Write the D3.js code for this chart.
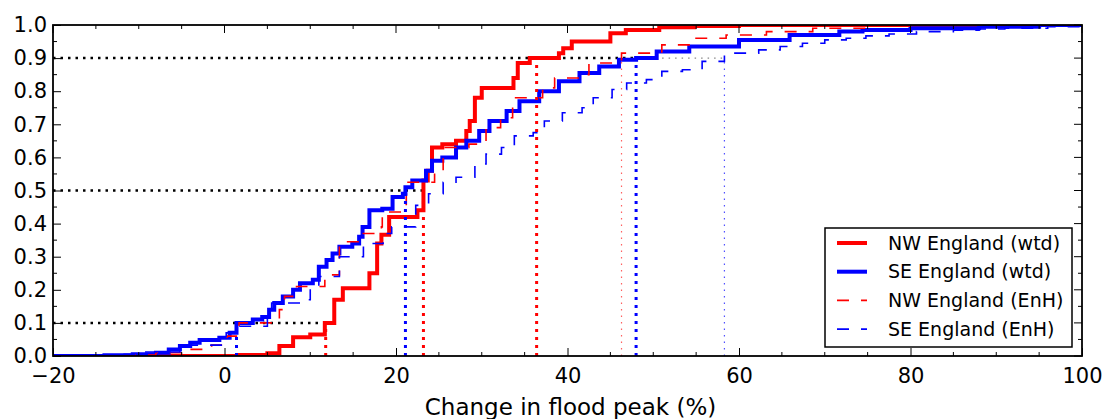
<!DOCTYPE html>
<html>
<head>
<meta charset="utf-8">
<script src="https://cdn.jsdelivr.net/npm/d3@7"></script>
<style>
  body { margin: 0; background: #fff; }
  text { font-family: "DejaVu Sans", sans-serif; fill: #000; }
</style>
</head>
<body>
<div id="chart"></div>
<script>
// step CDFs: change in flood peak (%) -> cumulative fraction
const nwWtdX = [-20, 1.7, 5, 6.4, 8, 10, 11.7, 12.8, 13.8, 16.9, 17.8, 18.3, 19.2, 22.5, 23.2, 23.7, 24.2, 25.4, 27, 28.2, 28.6, 29.2, 30.0, 33.7, 34.2, 35.6, 39.0, 39.5, 40.5, 45.0, 46.8, 50.7, 54.8, 60, 100];
const nwWtdP = [0, 0.003, 0.008, 0.03, 0.057, 0.065, 0.1, 0.17, 0.205, 0.25, 0.34, 0.366, 0.42, 0.44, 0.53, 0.56, 0.63, 0.64, 0.65, 0.68, 0.71, 0.78, 0.81, 0.84, 0.885, 0.9, 0.915, 0.93, 0.95, 0.975, 0.985, 0.993, 0.997, 1.0, 1.0];

const seWtdX = [-20, -14, -10.7, -8, -6.5, -5.2, -4, -2.9, -0.6, 0.6, 1.4, 3.3, 4.4, 5.2, 5.8, 6.8, 8.0, 8.8, 10.3, 11.0, 11.9, 12.6, 13.4, 14.9, 15.7, 16.1, 16.9, 18.4, 19.6, 20.8, 21.1, 21.9, 23.5, 24.2, 25.4, 27.0, 28.2, 29.7, 30.9, 32.9, 34.4, 36.7, 39.0, 41.4, 43.7, 46.0, 48.0, 50.4, 54.2, 60, 65.9, 71.7, 74.4, 80, 88, 95, 100];
const seWtdP = [0, 0.002, 0.005, 0.01, 0.02, 0.03, 0.04, 0.048, 0.055, 0.07, 0.1, 0.11, 0.118, 0.14, 0.16, 0.18, 0.2, 0.22, 0.23, 0.27, 0.29, 0.31, 0.33, 0.34, 0.36, 0.39, 0.44, 0.445, 0.48, 0.49, 0.51, 0.53, 0.56, 0.59, 0.6, 0.63, 0.65, 0.68, 0.71, 0.74, 0.77, 0.8, 0.83, 0.855, 0.875, 0.895, 0.9, 0.92, 0.935, 0.955, 0.97, 0.98, 0.985, 0.99, 0.995, 1.0, 1.0];

const nwEnhX = [-20, -12, -8, -5, -1.5, 0.3, 1.7, 6.4, 7.0, 8.4, 11.7, 13.4, 15.8, 18.3, 18.4, 21.2, 24.5, 25.5, 28.5, 30.5, 32.2, 33.6, 37.1, 38.5, 41.7, 42.5, 45.2, 46.3, 51.0, 54.5, 58.5, 63.2, 68.6, 75, 80, 100];
const nwEnhP = [0, 0.003, 0.01, 0.02, 0.033, 0.06, 0.1, 0.14, 0.18, 0.21, 0.245, 0.345, 0.37, 0.39, 0.435, 0.525, 0.56, 0.63, 0.64, 0.69, 0.72, 0.78, 0.81, 0.84, 0.85, 0.885, 0.895, 0.915, 0.94, 0.96, 0.97, 0.98, 0.99, 0.997, 1.0, 1.0];

const seEnhX = [-20, -13, -10, -5.2, 0.2, 1.5, 5, 5.5, 9, 10, 11, 13.4, 16.2, 18.5, 19.5, 22.3, 23.8, 25.5, 27.0, 29.2, 30.5, 32.3, 33.8, 36.0, 37.3, 39.4, 41.7, 43.0, 45.2, 46.9, 49.2, 51.0, 53.4, 55.7, 58.3, 62.3, 64.8, 67.4, 70, 72.5, 74.8, 77.5, 80.7, 85, 88, 91, 96, 100];
const seEnhP = [0, 0.005, 0.012, 0.033, 0.07, 0.09, 0.13, 0.16, 0.17, 0.205, 0.24, 0.3, 0.34, 0.37, 0.39, 0.455, 0.49, 0.525, 0.54, 0.58, 0.61, 0.63, 0.665, 0.675, 0.71, 0.735, 0.75, 0.78, 0.805, 0.825, 0.835, 0.86, 0.865, 0.89, 0.915, 0.925, 0.935, 0.945, 0.955, 0.96, 0.967, 0.973, 0.98, 0.984, 0.988, 0.99, 0.995, 0.998];

// quantile levels and where each series crosses them
const levels = [0.1, 0.5, 0.9];
const nwWtdQ = [11.8, 23.2, 36.4];
const seWtdQ = [1.4, 21.1, 48.0];
const nwEnhQ90 = 46.3;
const seEnhQ90 = 58.3;

const xTicks = [-20, 0, 20, 40, 60, 80, 100];
const yTicks = [0, 0.1, 0.2, 0.3, 0.4, 0.5, 0.6, 0.7, 0.8, 0.9, 1.0];

const width = 1108, height = 419;
const margin = {left: 53, right: 26, top: 25, bottom: 63};
const innerwidth = width - margin.left - margin.right;
const innerheight = height - margin.top - margin.bottom;

const svg = d3.select('#chart').append('svg')
  .attr('width', width)
  .attr('height', height);

const g = svg.append('g').attr('transform', `translate(${margin.left},${margin.top})`);

const x = d3.scaleLinear().domain([-20, 100]).range([0, innerwidth]);
const y = d3.scaleLinear().domain([0, 1]).range([innerheight, 0]);

g.append('clipPath').attr('id', 'clip')
  .append('rect').attr('width', innerwidth).attr('height', innerheight);

const plot = g.append('g').attr('clip-path', 'url(#clip)');

// horizontal dotted guides at the quantile levels
levels.forEach((lv, i) => {
  const far = Math.max(nwWtdQ[i], seWtdQ[i]);
  if (lv === 0.9) {
    plot.append('line')
      .attr('x1', x(far)).attr('x2', x(seEnhQ90))
      .attr('y1', y(lv)).attr('y2', y(lv))
      .attr('stroke', '#888').attr('stroke-width', 1.2)
      .attr('stroke-dasharray', '1.5,5');
  }
  plot.append('line')
    .attr('x1', 0).attr('x2', x(far))
    .attr('y1', y(lv)).attr('y2', y(lv))
    .attr('stroke', '#000').attr('stroke-width', 2.5)
    .attr('stroke-dasharray', '2.5,5');
});

const line = d3.line()
  .x(d => x(d[0]))
  .y(d => y(d[1]))
  .curve(d3.curveStepAfter);

const series = [
  {name: 'NW England (wtd)', xs: nwWtdX, ps: nwWtdP, color: '#ff0000', w: 4, dash: null},
  {name: 'SE England (wtd)', xs: seWtdX, ps: seWtdP, color: '#0000ff', w: 4, dash: null},
  {name: 'NW England (EnH)', xs: nwEnhX, ps: nwEnhP, color: '#ff0000', w: 1.6, dash: '12,12'},
  {name: 'SE England (EnH)', xs: seEnhX, ps: seEnhP, color: '#0000ff', w: 1.6, dash: '12,12'}
];

series.forEach(s => {
  plot.append('path')
    .datum(s.xs.map((v, i) => [v, s.ps[i]]))
    .attr('d', line)
    .attr('fill', 'none')
    .attr('stroke', s.color)
    .attr('stroke-width', s.w)
    .attr('stroke-dasharray', s.dash);
});

// vertical quantile markers
const vlines = [];
levels.forEach((lv, i) => {
  vlines.push({v: nwWtdQ[i], lv, color: '#ff0000', w: 3, dash: '3,5'});
  vlines.push({v: seWtdQ[i], lv, color: '#0000ff', w: 3, dash: '3,5'});
});
vlines.push({v: nwEnhQ90, lv: 0.9, color: '#ff6060', w: 1.2, dash: '1.5,5'});
vlines.push({v: seEnhQ90, lv: 0.9, color: '#5050ff', w: 1.2, dash: '1.5,5'});

plot.selectAll('.qline')
  .data(vlines)
  .join('line')
  .attr('class', 'qline')
  .attr('x1', d => x(d.v)).attr('x2', d => x(d.v))
  .attr('y1', y(0)).attr('y2', d => y(d.lv))
  .attr('stroke', d => d.color)
  .attr('stroke-width', d => d.w)
  .attr('stroke-dasharray', d => d.dash);

// axes, ticks pointing inwards on all four sides
const fmtX = d => d < 0 ? '\u2212' + Math.abs(d) : String(d);
const xMinor = d3.range(-20, 101, 5);
const yMinor = d3.range(0, 1.0001, 0.05);

const xAxis = g.append('g').attr('transform', `translate(0,${innerheight})`)
  .call(d3.axisBottom(x).tickValues(xTicks).tickFormat(fmtX).tickSizeInner(-8).tickSizeOuter(0).tickPadding(14));
const yAxis = g.append('g')
  .call(d3.axisLeft(y).tickValues(yTicks).tickFormat(d3.format('.1f')).tickSizeInner(-8).tickSizeOuter(0).tickPadding(6));

[xAxis, yAxis].forEach(a => {
  a.select('.domain').remove();
  a.selectAll('text').attr('font-size', 21).attr('fill', '#000');
  a.selectAll('line').attr('stroke', '#000').attr('stroke-width', 1);
});
xAxis.selectAll('text').attr('dy', '0.62em');

const ticks = g.append('g').attr('stroke', '#000').attr('stroke-width', 1);
xMinor.forEach(v => {
  const len = xTicks.includes(v) ? 8 : 4;
  ticks.append('line').attr('x1', x(v)).attr('x2', x(v)).attr('y1', 0).attr('y2', len);
  if (!xTicks.includes(v)) ticks.append('line').attr('x1', x(v)).attr('x2', x(v)).attr('y1', innerheight).attr('y2', innerheight - len);
});
yMinor.forEach(v => {
  const major = Math.abs(v * 10 - Math.round(v * 10)) < 1e-6;
  const len = major ? 8 : 4;
  ticks.append('line').attr('x1', innerwidth).attr('x2', innerwidth - len).attr('y1', y(v)).attr('y2', y(v));
  if (!major) ticks.append('line').attr('x1', 0).attr('x2', len).attr('y1', y(v)).attr('y2', y(v));
});

g.append('rect')
  .attr('width', innerwidth).attr('height', innerheight)
  .attr('fill', 'none').attr('stroke', '#000').attr('stroke-width', 1.8);

g.append('text')
  .attr('x', innerwidth / 2 + 3).attr('y', innerheight + 59)
  .attr('text-anchor', 'middle')
  .attr('font-size', 23)
  .text('Change in flood peak (%)');

// legend
const legend = g.append('g').attr('transform', `translate(${825 - margin.left},${228 - margin.top})`);
legend.append('rect')
  .attr('width', 247).attr('height', 119)
  .attr('fill', '#fff').attr('stroke', '#000').attr('stroke-width', 1.5);
series.forEach((s, i) => {
  const ly = 15 + i * 28.7;
  legend.append('line')
    .attr('x1', 12).attr('x2', 42).attr('y1', ly).attr('y2', ly)
    .attr('stroke', s.color).attr('stroke-width', s.w)
    .attr('stroke-dasharray', s.dash);
  legend.append('text')
    .attr('x', 63).attr('y', ly).attr('dy', '0.35em')
    .attr('font-size', 19)
    .text(s.name);
});
</script>
</body>
</html>
